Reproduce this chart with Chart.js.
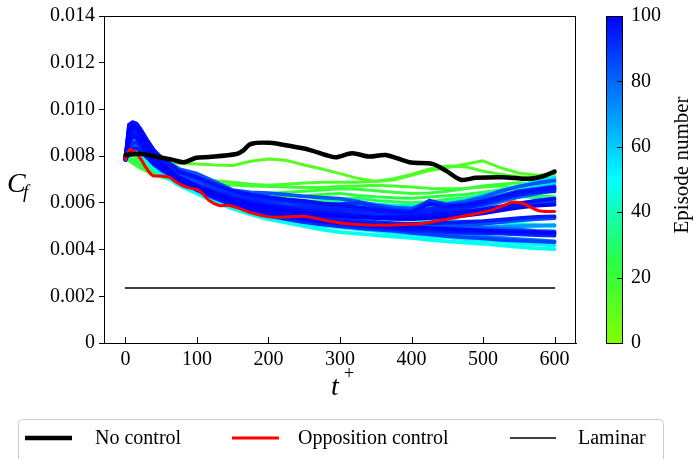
<!DOCTYPE html>
<html>
<head>
<meta charset="utf-8">
<script src="https://cdn.jsdelivr.net/npm/chart.js@4.4.1/dist/chart.umd.min.js"></script>
<style>
  html, body { margin: 0; padding: 0; background: #fff; }
  #wrap { width: 693px; height: 459px; position: relative; }
</style>
</head>
<body>
<div id="wrap"><canvas id="c" width="693" height="459"></canvas></div>
<script>
// ---- axes ----
const xTicks = [0, 100, 200, 300, 400, 500, 600];
// skin friction values are kept in units of 1e-3
const yTicks = [0, 2, 4, 6, 8, 10, 12, 14];
const yTickLabels = ['0', '0.002', '0.004', '0.006', '0.008', '0.010', '0.012', '0.014'];
const cbTicks = [0, 20, 40, 60, 80, 100];

// ---- reference cases ----
const noControlT  = [0, 20, 47, 65, 82, 99, 117, 155, 165, 175, 201, 234, 257, 280, 294, 317, 341, 364, 397, 429, 448, 469, 490, 527, 564, 585, 600];
const noControlCf = [8.05, 8.10, 7.95, 7.85, 7.74, 7.93, 7.96, 8.09, 8.25, 8.52, 8.57, 8.41, 8.27, 8.05, 7.95, 8.12, 7.98, 8.05, 7.74, 7.67, 7.38, 6.99, 7.07, 7.10, 7.03, 7.15, 7.34];

const oppositionT  = [0, 3, 7, 14, 22, 30, 38, 50, 61, 73, 85, 103, 117, 131, 145, 160, 173, 201, 230, 252, 275, 304, 345, 380, 411, 453, 485, 513, 530, 541, 557, 578, 600];
const oppositionCf = [7.85, 8.15, 8.30, 8.15, 7.85, 7.45, 7.17, 7.15, 7.10, 6.85, 6.67, 6.53, 6.10, 5.89, 5.89, 5.75, 5.60, 5.40, 5.40, 5.42, 5.28, 5.13, 5.04, 5.06, 5.11, 5.32, 5.50, 5.70, 5.90, 6.03, 5.96, 5.66, 5.63];

const laminarT  = [0, 600];
const laminarCf = [2.36, 2.36];

// ---- training episodes, sampled on a common time grid ----
const episodeT = [0, 5, 10, 15, 20, 30, 40, 50, 75, 100, 125, 150, 175, 200, 225, 250, 275, 300, 325, 350, 375, 400, 425, 450, 475, 500, 525, 550, 575, 600];

const ep12  = [7.95, 7.92, 7.88, 7.84, 7.82, 7.80, 7.78, 7.75, 7.70, 7.66, 7.62, 7.60, 7.78, 7.88, 7.82, 7.62, 7.45, 7.25, 7.05, 6.92, 6.98, 7.18, 7.38, 7.50, 7.65, 7.80, 7.50, 7.28, 7.18, 7.22];
const ep15  = [7.90, 7.85, 7.80, 7.72, 7.62, 7.48, 7.32, 7.22, 7.08, 7.02, 6.95, 6.88, 6.80, 6.75, 6.80, 6.85, 6.88, 6.88, 6.88, 6.92, 7.03, 7.22, 7.45, 7.58, 7.55, 7.35, 7.22, 7.12, 7.06, 7.02];
const ep18  = [7.88, 7.82, 7.74, 7.64, 7.56, 7.40, 7.26, 7.16, 6.96, 6.86, 6.80, 6.76, 6.72, 6.70, 6.68, 6.66, 6.66, 6.70, 6.72, 6.75, 6.72, 6.68, 6.62, 6.60, 6.62, 6.68, 6.72, 6.64, 6.56, 6.52];
const ep21  = [7.85, 7.80, 7.70, 7.60, 7.50, 7.35, 7.20, 7.10, 6.90, 6.75, 6.60, 6.50, 6.44, 6.40, 6.45, 6.50, 6.55, 6.60, 6.58, 6.52, 6.45, 6.40, 6.42, 6.50, 6.60, 6.72, 6.80, 6.86, 6.80, 6.74];
const ep24  = [7.80, 7.86, 7.84, 7.76, 7.66, 7.46, 7.30, 7.20, 7.00, 6.80, 6.60, 6.45, 6.32, 6.25, 6.28, 6.30, 6.36, 6.40, 6.32, 6.26, 6.22, 6.20, 6.25, 6.30, 6.36, 6.45, 6.56, 6.62, 6.52, 6.46];
const ep28  = [7.85, 8.00, 8.05, 7.95, 7.80, 7.55, 7.35, 7.20, 6.95, 6.70, 6.50, 6.35, 6.20, 6.10, 6.06, 6.06, 6.10, 6.15, 6.20, 6.10, 6.05, 6.00, 6.05, 6.15, 6.22, 6.32, 6.42, 6.38, 6.32, 6.26];
const ep33  = [7.90, 8.20, 8.30, 8.20, 8.00, 7.70, 7.45, 7.30, 7.00, 6.75, 6.50, 6.30, 6.15, 6.05, 6.00, 6.00, 6.02, 6.05, 6.00, 5.95, 5.90, 5.92, 5.98, 6.05, 6.12, 6.22, 6.32, 6.28, 6.22, 6.16];
const ep38  = [7.95, 8.10, 8.30, 8.25, 8.10, 7.80, 7.55, 7.35, 7.00, 6.70, 6.45, 6.25, 6.10, 6.00, 5.95, 5.92, 5.95, 6.00, 5.95, 5.88, 5.85, 5.88, 5.95, 6.02, 6.15, 6.35, 6.55, 6.75, 6.95, 7.12];
const ep44  = [7.90, 8.30, 8.60, 8.55, 8.35, 7.95, 7.60, 7.35, 6.90, 6.55, 6.25, 6.05, 5.85, 5.70, 5.60, 5.55, 5.50, 5.45, 5.40, 5.35, 5.30, 5.28, 5.25, 5.22, 5.20, 5.18, 5.15, 5.10, 5.05, 5.00];
const ep48  = [7.85, 8.00, 8.25, 8.25, 8.10, 7.80, 7.50, 7.25, 6.75, 6.40, 6.05, 5.75, 5.50, 5.30, 5.15, 5.00, 4.85, 4.75, 4.68, 4.62, 4.56, 4.50, 4.42, 4.35, 4.30, 4.25, 4.18, 4.12, 4.05, 4.02];
const ep52  = [7.85, 8.50, 8.80, 8.70, 8.45, 7.95, 7.55, 7.30, 6.85, 6.50, 6.15, 5.85, 5.60, 5.40, 5.25, 5.12, 5.02, 4.95, 4.88, 4.80, 4.72, 4.65, 4.58, 4.52, 4.45, 4.40, 4.35, 4.28, 4.22, 4.18];
const ep56  = [7.90, 8.20, 8.45, 8.45, 8.30, 7.95, 7.60, 7.35, 6.95, 6.60, 6.30, 6.05, 5.85, 5.70, 5.58, 5.50, 5.45, 5.48, 5.55, 5.60, 5.62, 5.70, 5.80, 5.85, 5.95, 6.10, 6.30, 6.50, 6.70, 6.85];
const ep60  = [7.90, 8.70, 9.00, 8.90, 8.65, 8.10, 7.65, 7.40, 6.95, 6.60, 6.30, 6.08, 5.92, 5.85, 5.82, 5.80, 5.85, 5.95, 6.00, 5.92, 5.85, 5.80, 5.85, 5.95, 6.10, 6.30, 6.50, 6.70, 6.85, 7.05];
const ep70  = [7.85, 8.40, 8.70, 8.75, 8.55, 8.10, 7.70, 7.45, 6.98, 6.62, 6.25, 5.98, 5.75, 5.58, 5.45, 5.35, 5.28, 5.22, 5.18, 5.12, 5.08, 5.02, 5.00, 4.98, 4.95, 4.95, 4.98, 5.00, 5.02, 5.05];
const ep76  = [7.85, 8.60, 8.95, 8.85, 8.60, 8.05, 7.65, 7.40, 6.95, 6.55, 6.20, 5.95, 5.70, 5.50, 5.35, 5.22, 5.12, 5.05, 4.98, 4.92, 4.85, 4.78, 4.72, 4.65, 4.60, 4.55, 4.50, 4.45, 4.40, 4.35];
const ep79  = [7.85, 9.20, 9.35, 9.30, 9.10, 8.55, 8.05, 7.75, 7.20, 6.85, 6.50, 6.25, 6.10, 6.02, 5.95, 5.85, 5.78, 5.70, 5.62, 5.55, 5.50, 5.48, 5.55, 5.60, 5.70, 5.85, 6.05, 6.25, 6.40, 6.55];
const ep81  = [7.90, 8.20, 8.40, 8.45, 8.35, 8.00, 7.65, 7.45, 7.05, 6.70, 6.35, 6.10, 5.90, 5.75, 5.62, 5.50, 5.40, 5.32, 5.25, 5.18, 5.12, 5.08, 5.05, 5.00, 4.95, 4.92, 4.88, 4.85, 4.80, 4.78];
const ep83  = [7.85, 9.30, 9.45, 9.40, 9.20, 8.70, 8.20, 7.90, 7.45, 7.25, 6.90, 6.55, 6.45, 6.42, 6.35, 6.28, 6.22, 6.18, 6.05, 5.90, 5.80, 5.75, 6.05, 5.95, 6.05, 6.25, 6.50, 6.70, 6.85, 6.95];
const ep85  = [7.88, 8.80, 9.10, 9.05, 8.85, 8.30, 7.85, 7.55, 7.02, 6.66, 6.32, 6.05, 5.82, 5.65, 5.50, 5.38, 5.28, 5.20, 5.12, 5.05, 5.00, 4.95, 4.98, 5.02, 5.05, 5.10, 5.18, 5.25, 5.30, 5.35];
const ep87  = [7.90, 8.50, 8.80, 8.80, 8.60, 8.15, 7.75, 7.50, 7.00, 6.60, 6.25, 5.95, 5.70, 5.50, 5.35, 5.20, 5.10, 5.00, 4.92, 4.85, 4.80, 4.72, 4.65, 4.58, 4.52, 4.48, 4.42, 4.38, 4.35, 4.32];
const ep89  = [7.85, 9.00, 9.20, 9.15, 8.95, 8.40, 7.95, 7.60, 7.05, 6.70, 6.40, 6.20, 6.05, 5.95, 5.85, 5.75, 5.65, 5.55, 5.48, 5.42, 5.38, 5.35, 5.40, 5.45, 5.50, 5.60, 5.75, 5.90, 6.00, 6.05];
const ep90  = [7.90, 9.25, 9.40, 9.35, 9.15, 8.65, 8.15, 7.85, 7.30, 7.00, 6.65, 6.40, 6.25, 6.15, 6.08, 6.02, 5.96, 5.95, 6.00, 5.85, 5.70, 5.65, 6.10, 5.90, 5.95, 6.10, 6.30, 6.50, 6.60, 6.70];
const ep92  = [7.85, 8.30, 8.55, 8.60, 8.45, 8.05, 7.70, 7.45, 6.95, 6.55, 6.20, 5.90, 5.65, 5.45, 5.30, 5.18, 5.08, 5.00, 4.95, 4.90, 4.85, 4.80, 4.78, 4.75, 4.72, 4.70, 4.68, 4.65, 4.62, 4.60];
const ep93  = [7.90, 9.10, 9.35, 9.30, 9.10, 8.55, 8.05, 7.75, 7.12, 6.78, 6.48, 6.28, 6.18, 6.12, 6.05, 5.95, 5.85, 5.78, 5.70, 5.62, 5.55, 5.52, 5.75, 5.80, 5.88, 6.00, 6.18, 6.35, 6.48, 6.60];
const ep94  = [7.90, 8.90, 9.15, 9.10, 8.90, 8.35, 7.90, 7.60, 7.05, 6.75, 6.45, 6.22, 6.05, 5.95, 5.85, 5.78, 5.72, 5.68, 5.65, 5.60, 5.58, 5.55, 5.62, 5.70, 5.78, 5.95, 6.15, 6.35, 6.45, 6.50];
const ep95  = [7.85, 8.10, 8.30, 8.35, 8.25, 7.95, 7.65, 7.45, 7.00, 6.65, 6.30, 6.05, 5.85, 5.70, 5.55, 5.42, 5.32, 5.25, 5.20, 5.15, 5.12, 5.10, 5.12, 5.15, 5.18, 5.22, 5.28, 5.35, 5.40, 5.42];
const ep96  = [7.86, 8.70, 9.00, 8.95, 8.75, 8.25, 7.80, 7.50, 6.98, 6.60, 6.24, 5.96, 5.74, 5.56, 5.42, 5.30, 5.20, 5.12, 5.05, 4.98, 4.92, 4.86, 4.84, 4.80, 4.78, 4.76, 4.74, 4.72, 4.70, 4.68];
const ep97  = [7.90, 9.35, 9.45, 9.40, 9.20, 8.70, 8.25, 7.95, 7.35, 7.10, 6.80, 6.50, 6.35, 6.25, 6.15, 6.08, 5.98, 5.90, 5.82, 5.72, 5.65, 5.60, 5.95, 5.85, 5.90, 6.05, 6.25, 6.45, 6.55, 6.65];
const ep98  = [7.88, 8.95, 9.25, 9.20, 9.00, 8.45, 8.00, 7.65, 7.06, 6.72, 6.42, 6.18, 6.00, 5.88, 5.76, 5.66, 5.58, 5.52, 5.46, 5.42, 5.40, 5.40, 5.50, 5.55, 5.62, 5.72, 5.85, 5.98, 6.10, 6.18];
const ep99  = [7.85, 8.60, 8.85, 8.80, 8.60, 8.10, 7.70, 7.45, 7.00, 6.62, 6.28, 6.00, 5.78, 5.60, 5.45, 5.32, 5.22, 5.15, 5.08, 5.02, 4.98, 4.95, 4.92, 4.88, 4.85, 4.82, 4.80, 4.78, 4.75, 4.72];
const ep100 = [7.90, 9.10, 9.30, 9.25, 9.05, 8.50, 8.00, 7.70, 7.05, 6.70, 6.38, 6.12, 5.92, 5.78, 5.65, 5.55, 5.48, 5.42, 5.38, 5.35, 5.32, 5.30, 5.35, 5.40, 5.45, 5.55, 5.68, 5.80, 5.88, 5.92];

const episodes = [
  { n: 12, cf: ep12 }, { n: 15, cf: ep15 }, { n: 18, cf: ep18 }, { n: 21, cf: ep21 },
  { n: 24, cf: ep24 }, { n: 28, cf: ep28 }, { n: 33, cf: ep33 }, { n: 38, cf: ep38 },
  { n: 44, cf: ep44 }, { n: 48, cf: ep48 }, { n: 52, cf: ep52 }, { n: 56, cf: ep56 },
  { n: 60, cf: ep60 }, { n: 70, cf: ep70 }, { n: 76, cf: ep76 }, { n: 79, cf: ep79 },
  { n: 81, cf: ep81 }, { n: 83, cf: ep83 }, { n: 85, cf: ep85 }, { n: 87, cf: ep87 },
  { n: 89, cf: ep89 }, { n: 90, cf: ep90 }, { n: 92, cf: ep92 }, { n: 93, cf: ep93 },
  { n: 94, cf: ep94 }, { n: 95, cf: ep95 }, { n: 96, cf: ep96 }, { n: 97, cf: ep97 },
  { n: 98, cf: ep98 }, { n: 99, cf: ep99 }, { n: 100, cf: ep100 }
];

// episode colour map: chartreuse -> green -> cyan -> blue
const cmapStops = [
  { at: 0,   rgb: [128, 255, 0] },
  { at: 25,  rgb: [40, 255, 70] },
  { at: 50,  rgb: [0, 255, 255] },
  { at: 75,  rgb: [0, 128, 255] },
  { at: 100, rgb: [0, 0, 255] }
];
function episodeColor(n) {
  for (let i = 0; i < cmapStops.length - 1; i++) {
    const a = cmapStops[i], b = cmapStops[i + 1];
    if (n <= b.at) {
      const f = (n - a.at) / (b.at - a.at);
      const c = a.rgb.map((v, k) => Math.round(v + (b.rgb[k] - v) * f));
      return `rgb(${c[0]},${c[1]},${c[2]})`;
    }
  }
  const l = cmapStops[cmapStops.length - 1].rgb;
  return `rgb(${l[0]},${l[1]},${l[2]})`;
}

const pts = (ts, vs) => ts.map((t, i) => ({ x: t, y: vs[i] }));

const datasets = [
  { label: 'No control', data: pts(noControlT, noControlCf), borderColor: '#000000', borderWidth: 4.5, order: 0, tension: 0.3 },
  { label: 'Opposition control', data: pts(oppositionT, oppositionCf), borderColor: '#ff0000', borderWidth: 3, order: 1, tension: 0.3 },
  { label: 'Laminar', data: pts(laminarT, laminarCf), borderColor: '#000000', borderWidth: 1.5, order: 2 }
];
episodes.forEach(e => {
  datasets.push({
    label: 'Episode ' + e.n,
    data: pts(episodeT, e.cf),
    borderColor: episodeColor(e.n),
    borderWidth: e.n < 40 ? 3 : 3.8,
    order: 1000 - e.n
  });
});

const SERIF = "'Liberation Serif', 'DejaVu Serif', serif";

const decor = {
  id: 'decor',
  afterDraw(chart) {
    const { ctx, chartArea: a, scales } = chart;
    const x = scales.x;
    ctx.save();

    // axes frame
    ctx.strokeStyle = '#000';
    ctx.lineWidth = 1;
    ctx.strokeRect(a.left + 0.5, a.top + 0.5, a.right - a.left - 1, a.bottom - a.top);

    // inward ticks on the time axis
    xTicks.forEach(v => {
      const px = Math.round(x.getPixelForValue(v)) + 0.5;
      ctx.beginPath();
      ctx.moveTo(px, a.bottom);
      ctx.lineTo(px, a.bottom - 6);
      ctx.stroke();
    });

    // axis titles
    ctx.fillStyle = '#000';
    ctx.textBaseline = 'alphabetic';
    ctx.textAlign = 'left';
    ctx.font = `italic 28px ${SERIF}`;
    ctx.fillText('C', 7, 192);
    ctx.font = `italic 19px ${SERIF}`;
    ctx.fillText('f', 23, 198);

    ctx.font = `italic 28px ${SERIF}`;
    ctx.fillText('t', 331, 395);
    ctx.font = `18px ${SERIF}`;
    ctx.fillText('+', 344, 379);

    // colour bar
    const cbL = 606, cbR = 623;
    const cbTop = a.top, cbBot = a.bottom;
    const grad = ctx.createLinearGradient(0, cbBot, 0, cbTop);
    cmapStops.forEach(s => grad.addColorStop(s.at / 100, `rgb(${s.rgb.join(',')})`));
    ctx.fillStyle = grad;
    ctx.fillRect(cbL, cbTop, cbR - cbL, cbBot - cbTop);
    ctx.strokeStyle = '#000';
    ctx.strokeRect(cbL + 0.5, cbTop + 0.5, cbR - cbL - 1, cbBot - cbTop);
    ctx.font = `20px ${SERIF}`;
    ctx.fillStyle = '#000';
    ctx.textBaseline = 'middle';
    cbTicks.forEach(v => {
      const py = cbBot - (v / 100) * (cbBot - cbTop);
      const yy = Math.round(py) + 0.5;
      if (v > 0 && v < 100) {
        ctx.beginPath();
        ctx.moveTo(cbR - 6, yy);
        ctx.lineTo(cbR, yy);
        ctx.stroke();
      }
      ctx.fillText(String(v), 631, py);
    });
    ctx.save();
    ctx.translate(688, 165);
    ctx.rotate(-Math.PI / 2);
    ctx.textAlign = 'center';
    ctx.textBaseline = 'alphabetic';
    ctx.font = `21px ${SERIF}`;
    ctx.fillText('Episode number', 0, 0);
    ctx.restore();

    // legend
    ctx.strokeStyle = '#cccccc';
    ctx.lineWidth = 1;
    ctx.beginPath();
    ctx.roundRect(18.5, 419.5, 645, 60, 4);
    ctx.stroke();
    const slots = [
      { ds: 0, x0: 25, x1: 72, tx: 95 },
      { ds: 1, x0: 232, x1: 279, tx: 298 },
      { ds: 2, x0: 510, x1: 556, tx: 578 }
    ];
    const ly = 438;
    ctx.font = `20px ${SERIF}`;
    ctx.textAlign = 'left';
    ctx.textBaseline = 'middle';
    slots.forEach(s => {
      const d = chart.data.datasets[s.ds];
      ctx.strokeStyle = d.borderColor;
      ctx.lineWidth = d.borderWidth;
      ctx.beginPath();
      ctx.moveTo(s.x0, ly);
      ctx.lineTo(s.x1, ly);
      ctx.stroke();
      ctx.fillStyle = '#000';
      ctx.fillText(d.label, s.tx, ly + 1);
    });
    ctx.restore();
  }
};

new Chart(document.getElementById('c'), {
  type: 'scatter',
  data: { datasets },
  options: {
    responsive: false,
    animation: false,
    showLine: true,
    layout: { padding: { left: 0, right: 117, top: 15, bottom: 0 } },
    elements: {
      point: { radius: 0, hoverRadius: 0 },
      line: { fill: false, borderJoinStyle: 'round', borderCapStyle: 'round' }
    },
    plugins: { legend: { display: false }, tooltip: { enabled: false } },
    scales: {
      x: {
        type: 'linear', min: -30, max: 630,
        afterBuildTicks: s => { s.ticks = xTicks.map(v => ({ value: v })); },
        afterFit: s => { s.height = 116; },
        ticks: { color: '#000', font: { family: SERIF, size: 20 }, padding: 5, maxRotation: 0, autoSkip: false },
        grid: { display: true, drawOnChartArea: false, drawTicks: false },
        border: { display: true, color: '#000', width: 1 }
      },
      y: {
        type: 'linear', min: 0, max: 14,
        afterBuildTicks: s => { s.ticks = yTicks.map(v => ({ value: v })); },
        afterFit: s => { s.width = 104; },
        ticks: { color: '#000', font: { family: SERIF, size: 20 }, padding: 4, autoSkip: false,
                 callback: v => yTickLabels[yTicks.indexOf(v)] },
        grid: { display: true, drawOnChartArea: false, drawTicks: true, tickLength: 5, color: '#000' },
        border: { display: true, color: '#000', width: 1 }
      }
    }
  },
  plugins: [decor]
});
</script>
</body>
</html>
